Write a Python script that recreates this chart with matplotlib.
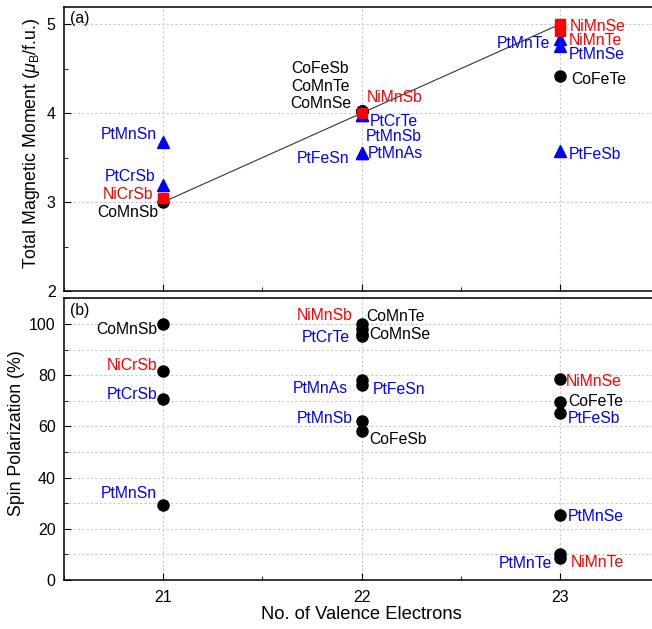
"""
Two-panel chart: total magnetic moment and spin polarization vs
number of valence electrons for half-Heusler compounds.
Output: out.png
"""
import matplotlib
matplotlib.use("Agg")
import matplotlib.pyplot as plt
from matplotlib.ticker import MultipleLocator

plt.rcParams["font.family"] = ["Liberation Sans", "DejaVu Sans"]
plt.rcParams["mathtext.fontset"] = "custom"
plt.rcParams["mathtext.rm"] = "Liberation Sans"
plt.rcParams["mathtext.it"] = "Liberation Sans:italic"

# ---- data ----
compounds = ["CoMnSb", "NiCrSb", "PtCrSb", "PtMnSn",
             "CoFeSb", "CoMnTe", "CoMnSe", "NiMnSb",
             "PtCrTe", "PtMnSb", "PtMnAs", "PtFeSn",
             "NiMnSe", "NiMnTe", "PtMnTe", "PtMnSe",
             "CoFeTe", "PtFeSb"]
valence = [21, 21, 21, 21,
           22, 22, 22, 22, 22, 22, 22, 22,
           23, 23, 23, 23, 23, 23]
moment = [3.00, 3.05, 3.19, 3.68,
          4.02, 4.02, 4.02, 4.00, 3.98, 3.98, 3.55, 3.55,
          5.00, 4.92, 4.83, 4.76, 4.42, 3.58]
polarization = [100.0, 81.6, 70.6, 29.4,
                58.2, 98.0, 95.5, 100.0, 96.0, 62.2, 78.0, 76.0,
                78.4, 8.7, 10.0, 25.4, 69.7, 65.1]

# Slater-Pauling line M = Z - 18
sp_x = [21, 23]
sp_y = [3, 5]

# label placement (pixel offset from point, horizontal alignment)
labels_a = {
    "CoMnSb": (-5, -10, "right"), "NiCrSb": (-10, 3, "right"),
    "PtCrSb": (-8, 9, "right"), "PtMnSn": (-6, 7, "right"),
    "CoFeSb": (-41, 43, "center"), "CoMnTe": (-41, 25, "center"),
    "CoMnSe": (-41, 8, "center"), "NiMnSb": (5, 16, "left"),
    "PtCrTe": (8, -7, "left"), "PtMnSb": (4, -22, "left"),
    "PtMnAs": (6, 0, "left"), "PtFeSn": (-12, -5, "right"),
    "NiMnSe": (10, -2, "left"), "NiMnTe": (9, -9, "left"),
    "PtMnTe": (-10, -4, "right"), "PtMnSe": (9, -9, "left"),
    "CoFeTe": (11, -4, "left"), "PtFeSb": (9, -4, "left"),
}
labels_b = {
    "CoMnSb": (-6, -6, "right"), "NiCrSb": (-6, 6, "right"),
    "PtCrSb": (-6, 5, "right"), "PtMnSn": (-6, 11, "right"),
    "NiMnSb": (-9, 9, "right"), "CoMnTe": (5, 13, "left"),
    "PtCrTe": (-12, -3, "right"), "CoMnSe": (8, 1, "left"),
    "PtMnAs": (-14, -8, "right"), "PtFeSn": (11, -4, "left"),
    "PtMnSb": (-9, 2, "right"), "CoFeSb": (8, -8, "left"),
    "NiMnSe": (6, -2, "left"), "CoFeTe": (8, 0, "left"),
    "PtFeSb": (8, -5, "left"), "PtMnSe": (8, -2, "left"),
    "PtMnTe": (-8, -9, "right"), "NiMnTe": (11, -5, "left"),
}

COLORS = {"Co": "black", "Ni": "#ff0000", "Pt": "#0000ff"}
MARKERS = {"Co": ("o", 8, 3), "Ni": ("s", 7, 5), "Pt": ("^", 8, 4)}
FS = 11.3


def style_axis(ax):
    ax.set_xlim(20.5, 23.5)
    ax.xaxis.set_major_locator(MultipleLocator(1))
    ax.xaxis.set_minor_locator(MultipleLocator(0.5))
    ax.tick_params(which="both", direction="in", top=False, right=False,
                   labelsize=11.5, pad=6)
    ax.tick_params(axis="x", which="both", pad=7)
    ax.tick_params(which="major", length=5)
    ax.tick_params(which="minor", length=3)
    for s in ax.spines.values():
        s.set_linewidth(1.1)


fig = plt.figure(figsize=(6.52, 6.29), dpi=100)
W = 652.0
H = 629.0
left = 64 / W
width = (659 - 64) / W
ax1 = fig.add_axes([left, (H - 291) / H, width, 284.5 / H])
ax2 = fig.add_axes([left, (H - 580) / H, width, 281.6 / H])

# ---- (a) magnetic moment ----
ax1.plot(sp_x, sp_y, color="#333333", lw=0.8, zorder=2)
for name, x, m in zip(compounds, valence, moment):
    fam = name[:2]
    mk, ms, z = MARKERS[fam]
    ax1.plot(x, m, marker=mk, ms=ms, color=COLORS[fam], ls="none",
             zorder=z)
    dx, dy, ha = labels_a[name]
    ax1.annotate(name, (x, m), xytext=(dx, dy), textcoords="offset pixels",
                 ha=ha, va="center", color=COLORS[fam], fontsize=FS,
                 zorder=6)

style_axis(ax1)
ax1.set_ylim(2, 5.2)
ax1.yaxis.set_major_locator(MultipleLocator(1))
ax1.yaxis.set_minor_locator(MultipleLocator(0.5))
ax1.grid(True, which="major", color="#c8c8c8", ls=(0, (2, 2)), lw=0.8)
ax1.set_axisbelow(True)
ax1.tick_params(labelbottom=False)
ax1.set_ylabel(r"Total Magnetic Moment ($\mu_\mathregular{B}$/f.u.)",
               fontsize=12.8)
ax1.yaxis.set_label_coords(-0.037, 0.52)
ax1.text(0.01, 0.985, "(a)", transform=ax1.transAxes, ha="left", va="top",
         fontsize=FS)

# ---- (b) spin polarization ----
ax2.plot(valence, polarization, "o", ms=8, color="black", ls="none",
         zorder=3)
for name, x, p in zip(compounds, valence, polarization):
    dx, dy, ha = labels_b[name]
    ax2.annotate(name, (x, p), xytext=(dx, dy), textcoords="offset pixels",
                 ha=ha, va="center", color=COLORS[name[:2]], fontsize=FS,
                 zorder=6)

style_axis(ax2)
ax2.set_ylim(0, 110)
ax2.yaxis.set_major_locator(MultipleLocator(20))
ax2.yaxis.set_minor_locator(MultipleLocator(10))
ax2.grid(True, which="major", color="#c8c8c8", ls=(0, (2, 2)), lw=0.8)
ax2.grid(True, which="minor", axis="y", color="#c8c8c8", ls=(0, (2, 2)),
         lw=0.8)
ax2.set_axisbelow(True)
ax2.set_ylabel("Spin Polarization (%)", fontsize=12.8)
ax2.yaxis.set_label_coords(-0.066, 0.52)
ax2.set_xlabel("No. of Valence Electrons", fontsize=13.2, labelpad=1)
ax2.text(0.01, 0.985, "(b)", transform=ax2.transAxes, ha="left", va="top",
         fontsize=FS)

fig.savefig("out.png", dpi=100)
